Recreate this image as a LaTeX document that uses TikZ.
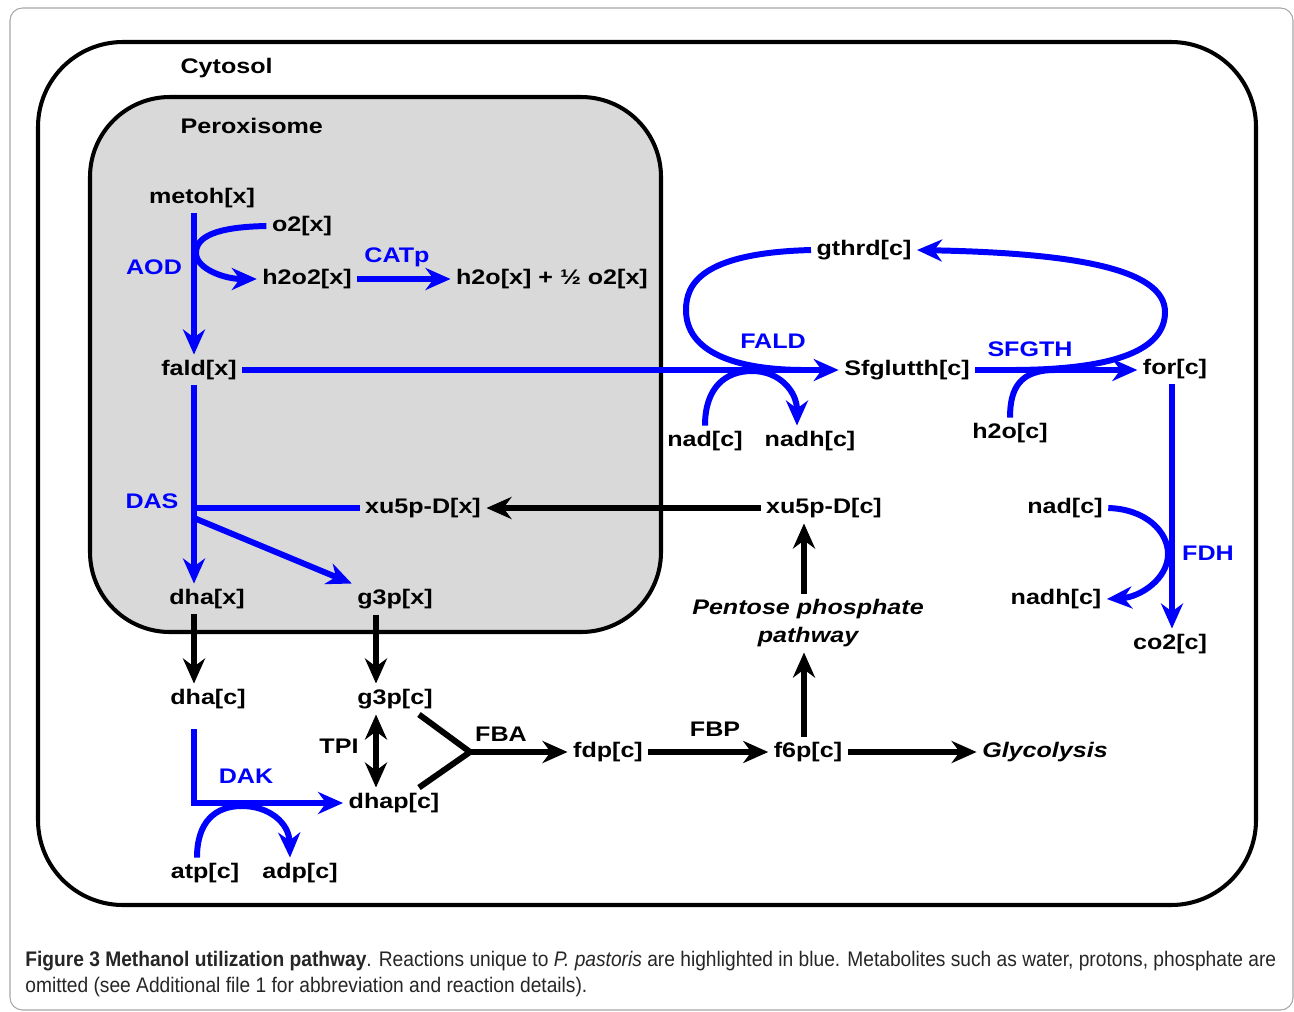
\documentclass[tikz,border=0pt]{standalone}
\usepackage{fontspec}
\usetikzlibrary{arrows.meta,calc}
\newfontfamily\diagfont[FakeStretch=1.19]{Liberation Sans}
\newfontfamily\capfont[FakeStretch=0.91]{Liberation Sans}
\definecolor{pathblue}{RGB}{0,0,255}
\definecolor{peroxgray}{RGB}{217,217,217}
\newcommand{\metfont}{\diagfont\fontsize{12}{16}\selectfont\bfseries}

\begin{document}
\begin{tikzpicture}[x=0.02cm, y=-0.02cm,
  met/.style={font=\metfont, inner sep=3pt},
  enz/.style={font=\metfont, text=pathblue, inner sep=0pt},
  bline/.style={draw=pathblue, line width=3.4pt},
  barr/.style={bline, -{Stealth[length=5mm,width=4.4mm,inset=1.6mm]}},
  kline/.style={draw=black, line width=3.4pt},
  karr/.style={kline, -{Stealth[length=5mm,width=4.4mm,inset=1.6mm]}}]
	\useasboundingbox (0,0) rectangle (1294,1011);
	% frame and compartments
	\draw[color=gray!70, line width=0.6pt, rounded corners=0.25cm] (10,8) rectangle (1293,1010);
	\draw[line width=2.3pt, rounded corners=1.7cm] (38,42) rectangle (1256,905);
	\draw[line width=2.3pt, fill=peroxgray, rounded corners=1.6cm] (90,97) rectangle (661,632);
	\node[met, anchor=west] (cytosol) at (175,68) {Cytosol};
	\node[met, anchor=west] (perox) at (175,126) {Peroxisome};
	% metabolites
	\node[met] (metoh) at (202,198) {metoh[x]};
	\node[met] (o2x) at (302,226) {o2[x]};
	\node[met] (h2o2x) at (307,279) {h2o2[x]};
	\node[met] (h2ox) at (552,279) {h2o[x] + ½ o2[x]};
	\node[met] (faldx) at (199,370) {fald[x]};
	\node[met] (xu5px) at (423,508) {xu5p-D[x]};
	\node[met] (dhax) at (207,599) {dha[x]};
	\node[met] (g3px) at (395,599) {g3p[x]};
	\node[met] (gthrd) at (864,250) {gthrd[c]};
	\node[met] (sfg) at (907,370) {Sfglutth[c]};
	\node[met] (forc) at (1175,369) {for[c]};
	\node[met] (nadc) at (705,441) {nad[c]};
	\node[met] (nadhc) at (810,441) {nadh[c]};
	\node[met] (h2oc) at (1010,433) {h2o[c]};
	\node[met] (xu5pc) at (824,508) {xu5p-D[c]};
	\node[met] (nadf) at (1065,508) {nad[c]};
	\node[met] (nadhf) at (1056,599) {nadh[c]};
	\node[met] (co2c) at (1170,644) {co2[c]};
	\node[met, font=\metfont\itshape, align=center] (ppp) at (808,623) {Pentose phosphate\\pathway};
	\node[met] (dhac) at (208,699) {dha[c]};
	\node[met] (g3pc) at (395,699) {g3p[c]};
	\node[met] (dhapc) at (394,803) {dhap[c]};
	\node[met] (fdpc) at (608,752) {fdp[c]};
	\node[met] (f6pc) at (808,752) {f6p[c]};
	\node[met, font=\metfont\itshape] (glyc) at (1045,752) {Glycolysis};
	\node[met] (atpc) at (205,873) {atp[c]};
	\node[met] (adpc) at (300,873) {adp[c]};
	% enzymes
	\node[enz] (aod) at (154,267) {AOD};
	\node[enz] (catp) at (397,257) {CATp};
	\node[enz] (fald) at (773,341) {FALD};
	\node[enz] (sfgth) at (1030,349) {SFGTH};
	\node[enz] (fdh) at (1208,553) {FDH};
	\node[enz] (das) at (152,501) {DAS};
	\node[enz] (dak) at (246,776) {DAK};
	\node[met, inner sep=0pt] (tpi) at (339,746) {TPI};
	\node[met, inner sep=0pt] (fba) at (501,734) {FBA};
	\node[met, inner sep=0pt] (fbp) at (715,729) {FBP};
	% columns and junctions
	\coordinate (colA) at (194,0);
	\coordinate (colG) at (376,0);
	\coordinate (colP) at (804,0);
	\coordinate (colF) at (1172,0);
	\coordinate (faldjoin) at (805,370);
	\coordinate (sfgthjoin) at (1010,370);
	\coordinate (h2ojoin) at (1055,370);
	\coordinate (dasbr) at (194,508);
	\coordinate (dasdiag) at (194,518);
	\coordinate (fbajn) at (470,752);
	% peroxisome
	\draw[barr] (metoh.south -| colA) -- (faldx.north -| colA);
	\draw[barr] (o2x.west) .. controls (215,227) and (196,237) .. (196,253) .. controls (196,269) and (225,279) .. (h2o2x.west);
	\draw[barr] (h2o2x.east) -- (h2ox.west);
	\draw[barr] (faldx.south -| colA) -- (dhax.north -| colA);
	\draw[bline] (dasbr) -- (xu5px.west);
	\draw[barr] (dasdiag) -- (g3px.north west);
	% glutathione cycle
	\draw[barr] (faldx.east) -- (sfg.west);
	\draw[bline] (gthrd.west) .. controls (700,253) and (686,285) .. (686,310) .. controls (686,352) and (735,370) .. (faldjoin);
	\draw[barr] (nadc.north) .. controls (705,388) and (725,371) .. (752,371) .. controls (780,371) and (797,392) .. ([xshift=-0.26cm]nadhc.north);
	\draw[barr] (sfg.east) -- (forc.west |- sfg.east);
	\draw[bline] (h2oc.north) .. controls (1010,388) and (1020,370) .. (h2ojoin);
	\draw[barr] (sfgthjoin) .. controls (1120,370) and (1165,348) .. (1165,312) .. controls (1165,268) and (1070,253) .. (gthrd.east);
	\draw[barr] (forc.south -| colF) -- (co2c.north -| colF);
	\draw[barr] (nadf.east) .. controls (1145,509) and (1168,531) .. (1168,554) .. controls (1168,579) and (1140,597) .. (nadhf.east);
	% cytosol
	\draw[karr] (xu5pc.west) -- (xu5px.east);
	\draw[karr] (dhax.south -| colA) -- (dhac.north -| colA);
	\draw[karr] (g3px.south -| colG) -- (g3pc.north -| colG);
	\draw[kline, {Stealth[length=5mm,width=4.4mm,inset=1.6mm]}-{Stealth[length=5mm,width=4.4mm,inset=1.6mm]}] (g3pc.south -| colG) -- (dhapc.north -| colG);
	\draw[kline] ($(g3pc.south)+(24,0)$) -- (fbajn) -- ($(dhapc.north)+(25,0)$);
	\draw[karr] (fbajn) -- (fdpc.west);
	\draw[karr] (fdpc.east) -- (f6pc.west);
	\draw[karr] (f6pc.east) -- (glyc.west);
	\draw[karr] (f6pc.north -| colP) -- (ppp.south -| colP);
	\draw[karr] (ppp.north -| colP) -- (xu5pc.south -| colP);
	\draw[barr, shorten <=0.3cm] (dhac.south -| colA) |- (dhapc.west);
	\draw[barr] ($(atpc.north)+(-8,0)$) .. controls (197,822) and (215,806) .. (242,806) .. controls (268,806) and (289,822) .. ($(adpc.north)+(-10,0)$);
	% caption
	\node[anchor=west, inner sep=0pt, text=black!85, font=\capfont\fontsize{12}{15.3}\selectfont, align=left] (caption) at (25,974) {{\bfseries Figure 3 Methanol utilization pathway}. Reactions unique to \textit{P.~pastoris} are highlighted in blue. Metabolites such as water, protons, phosphate are\\omitted (see Additional file 1 for abbreviation and reaction details).};
\end{tikzpicture}
\end{document}
